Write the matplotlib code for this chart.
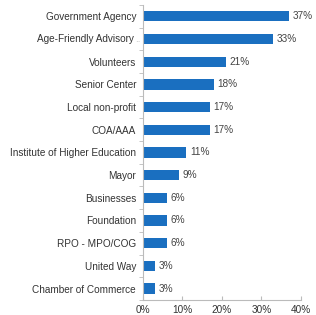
import matplotlib
matplotlib.use("Agg")
import matplotlib.pyplot as plt
from matplotlib.transforms import offset_copy
import numpy as np

categories = ["Government Agency", "Age-Friendly Advisory", "Volunteers", "Senior Center",
              "Local non-profit", "COA/AAA", "Institute of Higher Education", "Mayor",
              "Businesses", "Foundation", "RPO - MPO/COG", "United Way", "Chamber of Commerce"]
values = [37, 33, 21, 18, 17, 17, 11, 9, 6, 6, 6, 3, 3]
xticks = [0, 10, 20, 30, 40]

plt.rcParams['font.family'] = ['Liberation Sans', 'DejaVu Sans']
fig = plt.figure(figsize=(3.16, 3.15), dpi=100)
ax = fig.add_axes([0.4525, 0.048, 0.5, 0.936])

n = len(categories)
y = np.arange(n)
ax.barh(y, values, height=0.45, color="#1a6fc0")
ax.set_ylim(n - 0.5, -0.5)
ax.set_xlim(0, 40)
ax.set_yticks(y)
ax.set_yticklabels(["" if i == 1 else c for i, c in enumerate(categories)],
                   fontsize=7.2, color="#333333")
ax.tick_params(axis="y", length=0, pad=5)
ax.set_yticks(np.arange(-0.5, n, 1), minor=True)
ax.tick_params(axis="y", which="minor", length=3, color="#bbbbbb", direction="out")

# truncated label with grey ellipsis
tr = ax.get_yaxis_transform()
ax.text(0, 1, "..", transform=offset_copy(tr, fig=fig, x=-2, y=0, units="points"),
        ha="right", va="center", fontsize=7.2, color="#bbbbbb")
ax.text(0, 1, categories[1], transform=offset_copy(tr, fig=fig, x=-6.5, y=0, units="points"),
        ha="right", va="center", fontsize=7.2, color="#333333")

ax.set_xticks(xticks)
ax.set_xticklabels([f"{t}%" for t in xticks], fontsize=7.2, color="#333333")
ax.tick_params(axis="x", length=3, direction="in", color="#bbbbbb", pad=4)

for i, v in enumerate(values):
    ax.text(v + 0.9, i, f"{v}%", va="center", ha="left", fontsize=7.2, color="#444444")

for s in ["top", "right"]:
    ax.spines[s].set_visible(False)
for s in ["left", "bottom"]:
    ax.spines[s].set_color("#bbbbbb")
    ax.spines[s].set_linewidth(0.8)

fig.savefig("out.png", dpi=100)
